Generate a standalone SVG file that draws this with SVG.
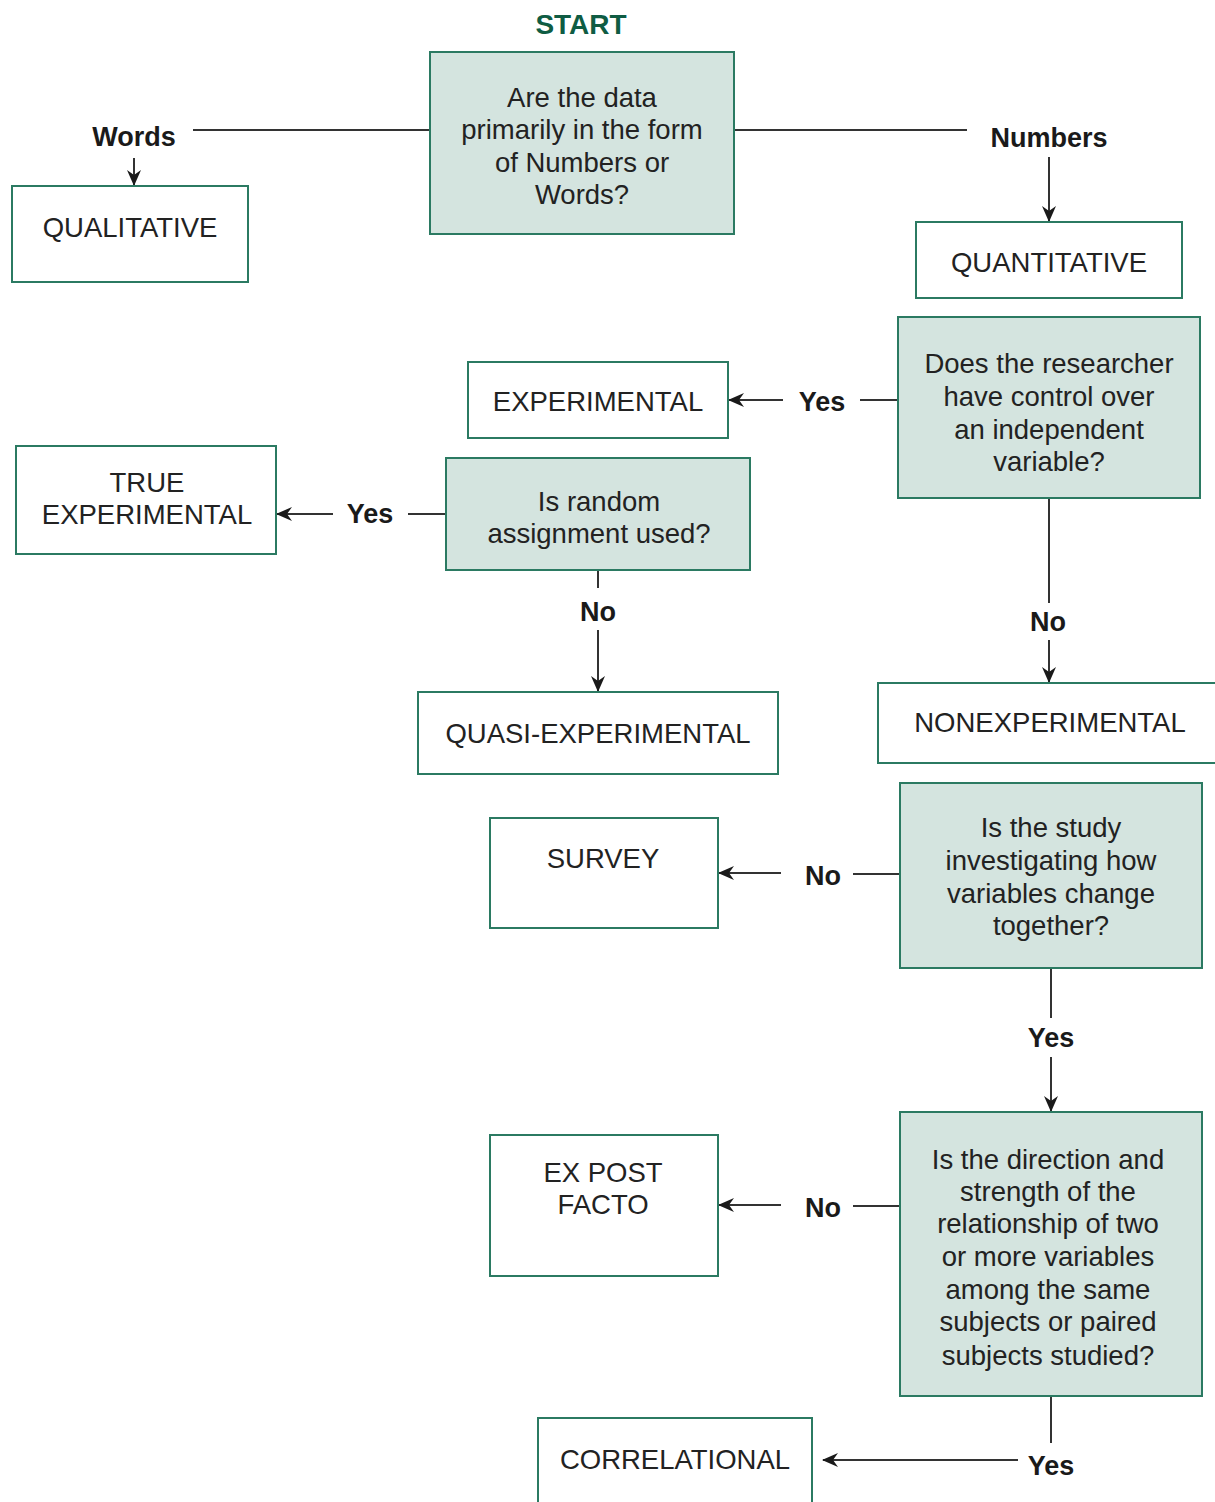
<svg xmlns="http://www.w3.org/2000/svg" width="1215" height="1502" viewBox="0 0 1215 1502">
<style>
.q{fill:#d4e4df;stroke:#2b7a62;stroke-width:2}
.b{fill:#ffffff;stroke:#2b7a62;stroke-width:2}
.t{font-family:"Liberation Sans",Arial,sans-serif;font-size:27.5px;fill:#222;text-anchor:middle}
.l{font-family:"Liberation Sans",Arial,sans-serif;font-size:27px;font-weight:bold;fill:#1a1a1a;text-anchor:middle}
.s{font-family:"Liberation Sans",Arial,sans-serif;font-size:28px;font-weight:bold;fill:#0f5c43;text-anchor:middle}
.c{fill:none;stroke:#333;stroke-width:2}
.a{fill:none;stroke:#333;stroke-width:2;marker-end:url(#ah)}
</style>
<defs>
<marker id="ah" viewBox="0 0 16 14" refX="15" refY="7" markerWidth="16" markerHeight="14" markerUnits="userSpaceOnUse" orient="auto">
<path d="M0,0 L16,7 L0,14 L5,7 z" fill="#1a1a1a"/>
</marker>
</defs>
<rect width="1215" height="1502" fill="#ffffff"/>
<text class="s" x="581" y="34">START</text>

<g id="connectors">
<line class="c" x1="193" y1="130" x2="430" y2="130"/>
<line class="a" x1="134" y1="158" x2="134" y2="185"/>
<line class="c" x1="734" y1="130" x2="967" y2="130"/>
<line class="a" x1="1049" y1="157" x2="1049" y2="221"/>
<line class="c" x1="860" y1="400" x2="898" y2="400"/>
<line class="a" x1="783" y1="400" x2="729" y2="400"/>
<line class="c" x1="1049" y1="498" x2="1049" y2="603"/>
<line class="a" x1="1049" y1="640" x2="1049" y2="682"/>
<line class="c" x1="408" y1="514" x2="446" y2="514"/>
<line class="a" x1="333" y1="514" x2="277" y2="514"/>
<line class="c" x1="598" y1="570" x2="598" y2="588"/>
<line class="a" x1="598" y1="630" x2="598" y2="691"/>
<line class="c" x1="853" y1="874" x2="900" y2="874"/>
<line class="a" x1="781" y1="873" x2="719" y2="873"/>
<line class="c" x1="1051" y1="968" x2="1051" y2="1018"/>
<line class="a" x1="1051" y1="1057" x2="1051" y2="1111"/>
<line class="c" x1="853" y1="1206" x2="900" y2="1206"/>
<line class="a" x1="781" y1="1205" x2="719" y2="1205"/>
<line class="c" x1="1051" y1="1396" x2="1051" y2="1443"/>
<line class="a" x1="1018" y1="1460" x2="823" y2="1460"/>
<text class="l" x="134" y="146">Words</text>
<text class="l" x="1049" y="147">Numbers</text>
<text class="l" x="822" y="411">Yes</text>
<text class="l" x="1048" y="631">No</text>
<text class="l" x="370" y="523">Yes</text>
<text class="l" x="598" y="621">No</text>
<text class="l" x="823" y="885">No</text>
<text class="l" x="1051" y="1047">Yes</text>
<text class="l" x="823" y="1217">No</text>
<text class="l" x="1051" y="1475">Yes</text>
</g>

<g id="q-data">
<rect class="q" x="430" y="52" width="304" height="182"/>
<text class="t" x="582" y="107">Are the data</text>
<text class="t" x="582" y="139">primarily in the form</text>
<text class="t" x="582" y="172">of Numbers or</text>
<text class="t" x="582" y="204">Words?</text>
</g>
<g id="qualitative">
<rect class="b" x="12" y="186" width="236" height="96"/>
<text class="t" x="130" y="237">QUALITATIVE</text>
</g>
<g id="quantitative">
<rect class="b" x="916" y="222" width="266" height="76"/>
<text class="t" x="1049" y="272">QUANTITATIVE</text>
</g>
<g id="q-control">
<rect class="q" x="898" y="317" width="302" height="181"/>
<text class="t" x="1049" y="373">Does the researcher</text>
<text class="t" x="1049" y="406">have control over</text>
<text class="t" x="1049" y="439">an independent</text>
<text class="t" x="1049" y="471">variable?</text>
</g>
<g id="experimental">
<rect class="b" x="468" y="362" width="260" height="76"/>
<text class="t" x="598" y="411">EXPERIMENTAL</text>
</g>
<g id="q-random">
<rect class="q" x="446" y="458" width="304" height="112"/>
<text class="t" x="599" y="511">Is random</text>
<text class="t" x="599" y="543">assignment used?</text>
</g>
<g id="true-experimental">
<rect class="b" x="16" y="446" width="260" height="108"/>
<text class="t" x="147" y="492">TRUE</text>
<text class="t" x="147" y="524">EXPERIMENTAL</text>
</g>
<g id="quasi">
<rect class="b" x="418" y="692" width="360" height="82"/>
<text class="t" x="598" y="743">QUASI-EXPERIMENTAL</text>
</g>
<g id="nonexperimental">
<rect class="b" x="878" y="683" width="345" height="80"/>
<text class="t" x="1050" y="732">NONEXPERIMENTAL</text>
</g>
<g id="q-change">
<rect class="q" x="900" y="783" width="302" height="185"/>
<text class="t" x="1051" y="837">Is the study</text>
<text class="t" x="1051" y="870">investigating how</text>
<text class="t" x="1051" y="903">variables change</text>
<text class="t" x="1051" y="935">together?</text>
</g>
<g id="survey">
<rect class="b" x="490" y="818" width="228" height="110"/>
<text class="t" x="603" y="868">SURVEY</text>
</g>
<g id="q-direction">
<rect class="q" x="900" y="1112" width="302" height="284"/>
<text class="t" x="1048" y="1169">Is the direction and</text>
<text class="t" x="1048" y="1201">strength of the</text>
<text class="t" x="1048" y="1233">relationship of two</text>
<text class="t" x="1048" y="1266">or more variables</text>
<text class="t" x="1048" y="1299">among the same</text>
<text class="t" x="1048" y="1331">subjects or paired</text>
<text class="t" x="1048" y="1365">subjects studied?</text>
</g>
<g id="ex-post-facto">
<rect class="b" x="490" y="1135" width="228" height="141"/>
<text class="t" x="603" y="1182">EX POST</text>
<text class="t" x="603" y="1214">FACTO</text>
</g>
<g id="correlational">
<rect class="b" x="538" y="1418" width="274" height="100"/>
<text class="t" x="675" y="1469">CORRELATIONAL</text>
</g>
</svg>
